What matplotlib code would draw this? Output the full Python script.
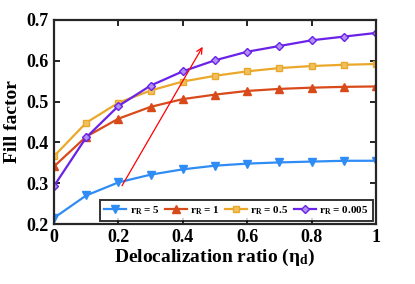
import numpy as np
import matplotlib.pyplot as plt

plt.rcParams['font.family'] = ['Liberation Serif', 'DejaVu Serif']
plt.rcParams['font.weight'] = 'bold'
plt.rcParams['mathtext.fontset'] = 'custom'
plt.rcParams['mathtext.rm'] = 'Liberation Serif:bold'
plt.rcParams['mathtext.bf'] = 'Liberation Serif:bold'

eta = [0, 0.1, 0.2, 0.3, 0.4, 0.5, 0.6, 0.7, 0.8, 0.9, 1.0]
ff_r5 = [0.215, 0.270, 0.302, 0.321, 0.334, 0.343, 0.348, 0.351, 0.353, 0.355, 0.355]
ff_r1 = [0.341, 0.414, 0.458, 0.487, 0.506, 0.517, 0.526, 0.531, 0.534, 0.536, 0.537]
ff_r05 = [0.366, 0.448, 0.497, 0.527, 0.549, 0.563, 0.574, 0.582, 0.587, 0.590, 0.592]
ff_r0005 = [0.293, 0.412, 0.489, 0.539, 0.574, 0.601, 0.622, 0.636, 0.650, 0.659, 0.668]
labels = [r'r$_\mathregular{R}$ = 5', r'r$_\mathregular{R}$ = 1',
          r'r$_\mathregular{R}$ = 0.5', r'r$_\mathregular{R}$ = 0.005']

fig = plt.figure(figsize=(4.15, 2.84), dpi=100)
ax = fig.add_axes([0.130, 0.211, 0.776, 0.719])

ax.plot(eta, ff_r5, '-v', color='#2f8cf5', lw=1.6, ms=6, label=labels[0])
ax.plot(eta, ff_r1, '-^', color='#d94a1a', lw=1.6, ms=6, label=labels[1])
ax.plot(eta, ff_r05, '-s', color='#eaa82a', lw=1.6, ms=4.5, mfc='#f0c060', label=labels[2])
ax.plot(eta, ff_r0005, '-D', color='#6a22e8', lw=1.6, ms=4.5, mfc='#b090f5', label=labels[3])

ax.annotate('', xy=(0.466, 0.640), xytext=(0.207, 0.288),
            arrowprops=dict(arrowstyle='->', color='red', lw=0.9))

ax.set_xlim(0, 1)
ax.set_ylim(0.2, 0.7)
ax.set_xticks([0, 0.2, 0.4, 0.6, 0.8, 1])
ax.set_xticklabels(['0', '0.2', '0.4', '0.6', '0.8', '1'])
ax.set_yticks([0.2, 0.3, 0.4, 0.5, 0.6, 0.7])
ax.tick_params(direction='in', top=True, right=True, labelsize=13, width=1.2, length=4)
for s in ax.spines.values():
    s.set_linewidth(1.6)
    s.set_color('#262626')

ax.set_xlabel(r'Delocalization ratio ($\mathregular{\eta_d}$)', fontsize=14, fontweight='bold', labelpad=1)
ax.set_ylabel('Fill factor', fontsize=14, fontweight='bold', labelpad=4)

leg = ax.legend(loc='lower right', ncol=4, fontsize=8, frameon=True, fancybox=False,
                edgecolor='black', handlelength=2.0, handletextpad=0.3, columnspacing=0.45,
                borderpad=0.4, borderaxespad=0.25)
leg.get_frame().set_linewidth(1.4)

fig.savefig('out.png', dpi=100)
